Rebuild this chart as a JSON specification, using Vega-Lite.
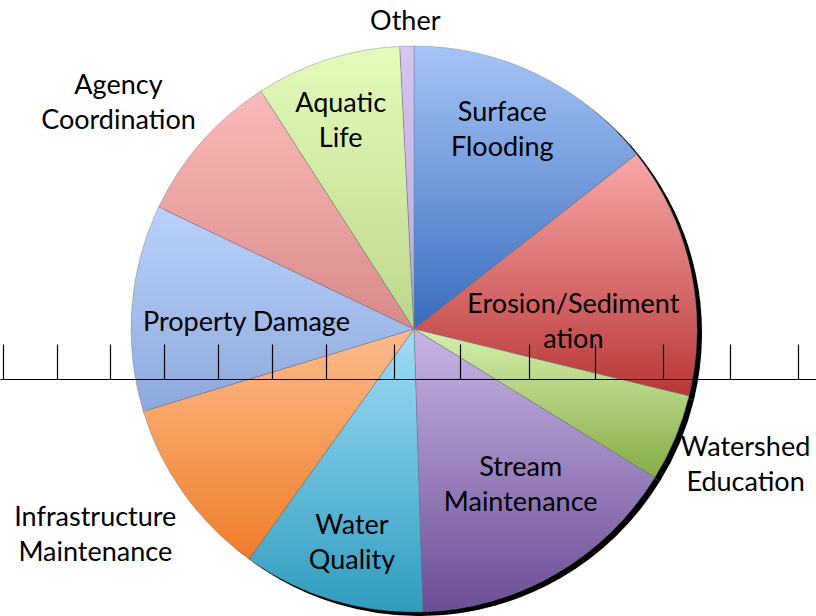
{
  "$schema": "https://vega.github.io/schema/vega-lite/v6.json",
  "width": 816,
  "height": 616,
  "autosize": {"type": "none"},
  "padding": 0,
  "background": "white",
  "config": {"view": {"stroke": null}},
  "data": {
    "values": [
      {"o": 1, "cat": "Surface Flooding", "label": "Surface\nFlooding", "v": 14.4},
      {"o": 2, "cat": "Erosion/Sedimentation", "label": "Erosion/Sediment\nation", "v": 14.4},
      {"o": 3, "cat": "Watershed Education", "label": "Watershed\nEducation", "v": 5.0},
      {"o": 4, "cat": "Stream Maintenance", "label": "Stream\nMaintenance", "v": 15.7},
      {"o": 5, "cat": "Water Quality", "label": "Water\nQuality", "v": 10.4},
      {"o": 6, "cat": "Infrastructure Maintenance", "label": "Infrastructure\nMaintenance", "v": 10.4},
      {"o": 7, "cat": "Property Damage", "label": "Property Damage", "v": 11.8},
      {"o": 8, "cat": "Agency Coordination", "label": "Agency\nCoordination", "v": 8.8},
      {"o": 9, "cat": "Aquatic Life", "label": "Aquatic\nLife", "v": 8.3},
      {"o": 10, "cat": "Other", "label": "Other", "v": 0.8}
    ]
  },
  "encoding": {
    "x": {"datum": 414, "type": "quantitative", "scale": {"domain": [0, 816], "nice": false, "zero": false},
      "axis": {"orient": "bottom", "offset": -237, "values": [3.3, 56.7, 110.3, 164.3, 218.3, 271.7, 325.7, 393.7, 460.3, 528.7, 595.3, 663.3, 730.3, 798.3],
        "labels": false, "title": null, "grid": false, "tickSize": -35, "tickColor": "black", "domainColor": "black", "tickWidth": 1.2, "domainWidth": 1.2, "zindex": 2}},
    "y": {"datum": 329, "type": "quantitative", "scale": {"domain": [616, 0], "nice": false, "zero": false}, "axis": null},
    "theta": {"field": "v", "type": "quantitative", "stack": true},
    "order": {"field": "o", "type": "quantitative"}
  },
  "layer": [
    {
      "mark": {"type": "arc", "radius": 283, "fill": "black", "xOffset": 5, "yOffset": 4}
    },
    {
      "mark": {"type": "arc", "radius": 283, "stroke": "#6f7c8f", "strokeWidth": 0.6, "strokeOpacity": 0.7},
      "encoding": {
        "fill": {
          "condition": [
            {"test": "datum.cat === 'Surface Flooding'", "value": {"gradient": "linear", "x1": 0, "y1": 0, "x2": 0, "y2": 1, "stops": [{"offset": 0, "color": "#a6c4f6"}, {"offset": 1, "color": "#3a6dbe"}]}},
            {"test": "datum.cat === 'Erosion/Sedimentation'", "value": {"gradient": "linear", "x1": 0, "y1": 0, "x2": 0, "y2": 1, "stops": [{"offset": 0, "color": "#f8a8a8"}, {"offset": 1, "color": "#b93737"}]}},
            {"test": "datum.cat === 'Watershed Education'", "value": {"gradient": "linear", "x1": 0, "y1": 0, "x2": 0, "y2": 1, "stops": [{"offset": 0, "color": "#d6efae"}, {"offset": 1, "color": "#86ab44"}]}},
            {"test": "datum.cat === 'Stream Maintenance'", "value": {"gradient": "linear", "x1": 0, "y1": 0, "x2": 0, "y2": 1, "stops": [{"offset": 0, "color": "#c8b5e4"}, {"offset": 1, "color": "#6b4d95"}]}},
            {"test": "datum.cat === 'Water Quality'", "value": {"gradient": "linear", "x1": 0, "y1": 0, "x2": 0, "y2": 1, "stops": [{"offset": 0, "color": "#a0ddf8"}, {"offset": 1, "color": "#2f9cbe"}]}},
            {"test": "datum.cat === 'Infrastructure Maintenance'", "value": {"gradient": "linear", "x1": 0, "y1": 0, "x2": 0, "y2": 1, "stops": [{"offset": 0, "color": "#fdbb8d"}, {"offset": 1, "color": "#ef7d28"}]}},
            {"test": "datum.cat === 'Property Damage'", "value": {"gradient": "linear", "x1": 0, "y1": 0, "x2": 0, "y2": 1, "stops": [{"offset": 0, "color": "#bad2fc"}, {"offset": 1, "color": "#8da8db"}]}},
            {"test": "datum.cat === 'Agency Coordination'", "value": {"gradient": "linear", "x1": 0, "y1": 0, "x2": 0, "y2": 1, "stops": [{"offset": 0, "color": "#fcbaba"}, {"offset": 1, "color": "#d98a8a"}]}},
            {"test": "datum.cat === 'Aquatic Life'", "value": {"gradient": "linear", "x1": 0, "y1": 0, "x2": 0, "y2": 1, "stops": [{"offset": 0, "color": "#e4fbba"}, {"offset": 1, "color": "#bcd78c"}]}}
          ],
          "value": {"gradient": "linear", "x1": 0, "y1": 0, "x2": 0, "y2": 1, "stops": [{"offset": 0, "color": "#d6c6f0"}, {"offset": 1, "color": "#b9a6de"}]}
        }
      }
    },
    {
      "mark": {"type": "text", "radius": 218, "dx": -7, "dy": -20, "font": "Lato", "fontSize": 27, "lineHeight": 35, "lineBreak": "\n", "align": "center", "baseline": "middle", "color": "black"},
      "encoding": {"text": {"condition": {"test": "datum.cat === 'Surface Flooding'", "field": "label"}, "value": ""}}
    },
    {
      "mark": {"type": "text", "radius": 160, "dx": 3, "dy": 10, "font": "Lato", "fontSize": 27, "lineHeight": 35, "lineBreak": "\n", "align": "center", "baseline": "middle", "color": "black"},
      "encoding": {"text": {"condition": {"test": "datum.cat === 'Erosion/Sedimentation'", "field": "label"}, "value": ""}}
    },
    {
      "mark": {"type": "text", "radius": 355, "dx": 4, "dy": -18, "font": "Lato", "fontSize": 27, "lineHeight": 35, "lineBreak": "\n", "align": "center", "baseline": "middle", "color": "black"},
      "encoding": {"text": {"condition": {"test": "datum.cat === 'Watershed Education'", "field": "label"}, "value": ""}}
    },
    {
      "mark": {"type": "text", "radius": 185, "dx": 14, "dy": -21, "font": "Lato", "fontSize": 27, "lineHeight": 35, "lineBreak": "\n", "align": "center", "baseline": "middle", "color": "black"},
      "encoding": {"text": {"condition": {"test": "datum.cat === 'Stream Maintenance'", "field": "label"}, "value": ""}}
    },
    {
      "mark": {"type": "text", "radius": 220, "dx": 2, "dy": -13, "font": "Lato", "fontSize": 27, "lineHeight": 35, "lineBreak": "\n", "align": "center", "baseline": "middle", "color": "black"},
      "encoding": {"text": {"condition": {"test": "datum.cat === 'Water Quality'", "field": "label"}, "value": ""}}
    },
    {
      "mark": {"type": "text", "radius": 370, "dx": -18, "dy": -27, "font": "Lato", "fontSize": 27, "lineHeight": 35, "lineBreak": "\n", "align": "center", "baseline": "middle", "color": "black"},
      "encoding": {"text": {"condition": {"test": "datum.cat === 'Infrastructure Maintenance'", "field": "label"}, "value": ""}}
    },
    {
      "mark": {"type": "text", "radius": 168, "dx": 0, "dy": 7, "font": "Lato", "fontSize": 27, "lineHeight": 35, "lineBreak": "\n", "align": "center", "baseline": "middle", "color": "black"},
      "encoding": {"text": {"condition": {"test": "datum.cat === 'Property Damage'", "field": "label"}, "value": ""}}
    },
    {
      "mark": {"type": "text", "radius": 370, "dx": -18, "dy": 2, "font": "Lato", "fontSize": 27, "lineHeight": 35, "lineBreak": "\n", "align": "center", "baseline": "middle", "color": "black"},
      "encoding": {"text": {"condition": {"test": "datum.cat === 'Agency Coordination'", "field": "label"}, "value": ""}}
    },
    {
      "mark": {"type": "text", "radius": 220, "dx": -6, "dy": -16, "font": "Lato", "fontSize": 27, "lineHeight": 35, "lineBreak": "\n", "align": "center", "baseline": "middle", "color": "black"},
      "encoding": {"text": {"condition": {"test": "datum.cat === 'Aquatic Life'", "field": "label"}, "value": ""}}
    },
    {
      "mark": {"type": "text", "radius": 307, "dx": -1, "dy": 0, "font": "Lato", "fontSize": 27, "lineHeight": 35, "lineBreak": "\n", "align": "center", "baseline": "middle", "color": "black"},
      "encoding": {"text": {"condition": {"test": "datum.cat === 'Other'", "field": "label"}, "value": ""}}
    }
  ]
}
